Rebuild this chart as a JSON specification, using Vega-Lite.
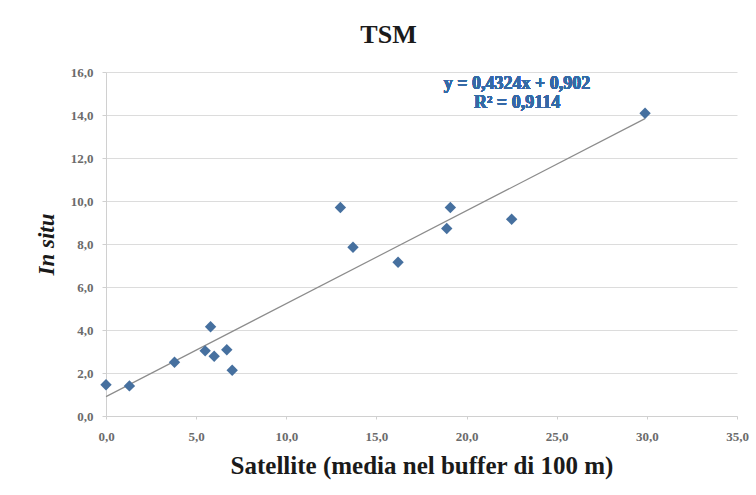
{
  "$schema": "https://vega.github.io/schema/vega-lite/v6.json",
  "autosize": "none",
  "width": 631,
  "height": 344,
  "padding": {"left": 106, "top": 72, "right": 19, "bottom": 79},
  "background": "white",
  "title": {
    "text": "TSM",
    "font": "Liberation Serif",
    "fontSize": 26,
    "fontWeight": "bold",
    "color": "#1a1a1a",
    "anchor": "middle",
    "dx": -33,
    "offset": -3,
    "baseline": "alphabetic"
  },
  "config": {
    "view": {"stroke": null},
    "axis": {
      "labelFont": "Liberation Serif",
      "labelFontWeight": "bold",
      "labelFontSize": 13,
      "labelColor": "#6b6b6b",
      "labelFlush": false,
      "titleFont": "Liberation Serif",
      "titleFontWeight": "bold",
      "titleColor": "#1a1a1a",
      "domainColor": "#d0d0d0",
      "tickColor": "#d0d0d0",
      "gridColor": "#dcdcdc"
    }
  },
  "data": {
    "values": [
      {"sat": 0.0, "insitu": 1.45},
      {"sat": 1.3, "insitu": 1.4},
      {"sat": 3.8, "insitu": 2.5},
      {"sat": 5.5, "insitu": 3.03},
      {"sat": 5.8, "insitu": 4.15},
      {"sat": 6.0, "insitu": 2.78},
      {"sat": 6.7, "insitu": 3.08},
      {"sat": 7.0, "insitu": 2.13},
      {"sat": 13.0, "insitu": 9.7},
      {"sat": 13.7, "insitu": 7.85},
      {"sat": 16.2, "insitu": 7.15},
      {"sat": 18.9, "insitu": 8.72},
      {"sat": 19.1, "insitu": 9.7},
      {"sat": 22.5, "insitu": 9.15},
      {"sat": 29.9, "insitu": 14.08}
    ]
  },
  "layer": [
    {
      "data": {"values": [{"sat": 0, "insitu": 0.902}, {"sat": 29.9, "insitu": 13.83}]},
      "mark": {"type": "line", "color": "#8c8c8c", "strokeWidth": 1.2},
      "encoding": {
        "x": {"field": "sat", "type": "quantitative"},
        "y": {"field": "insitu", "type": "quantitative"}
      }
    },
    {
      "mark": {"type": "point", "shape": "diamond", "filled": true, "size": 130, "color": "#46709f", "opacity": 1},
      "encoding": {
        "x": {
          "field": "sat",
          "type": "quantitative",
          "scale": {"domain": [0, 35], "nice": false},
          "axis": {
            "title": "Satellite (media nel buffer di 100 m)",
            "titleFontSize": 25,
            "titlePadding": 10,
            "values": [0, 5, 10, 15, 20, 25, 30, 35],
            "labelExpr": "replace(format(datum.value, '.1f'), '.', ',')",
            "grid": false,
            "tickSize": 3,
            "labelPadding": 11
          }
        },
        "y": {
          "field": "insitu",
          "type": "quantitative",
          "scale": {"domain": [0, 16], "nice": false},
          "axis": {
            "title": "In situ",
            "titleFontSize": 23,
            "titleFontStyle": "italic",
            "titlePadding": 12,
            "values": [0, 2, 4, 6, 8, 10, 12, 14, 16],
            "labelExpr": "replace(format(datum.value, '.1f'), '.', ',')",
            "grid": true,
            "tickSize": 4,
            "labelPadding": 9
          }
        }
      }
    },
    {
      "mark": {
        "type": "text",
        "font": "Liberation Serif",
        "fontWeight": "bold",
        "fontSize": 18,
        "color": "#3469a6",
        "align": "center",
        "baseline": "alphabetic",
        "lineHeight": 19
      },
      "encoding": {
        "x": {"datum": 22.8},
        "y": {"datum": 15.21},
        "text": {"value": ["y = 0,4324x + 0,902", "R² = 0,9114"]}
      }
    }
  ]
}
